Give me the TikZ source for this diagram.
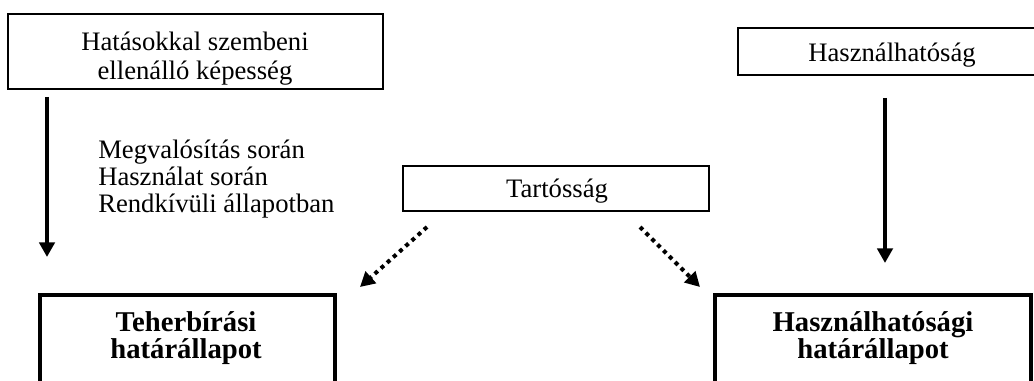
\documentclass[tikz,border=0pt]{standalone}
\usepackage{fontspec}
\setmainfont{Liberation Serif}
\usetikzlibrary{arrows.meta}
\begin{document}
\begin{tikzpicture}[x=0.75pt,y=-0.75pt,
  thinbox/.style={draw=black,line width=1.1pt,inner sep=0pt,fill=white},
  thickbox/.style={draw=black,line width=3pt,inner sep=0pt,fill=white},
  txt/.style={anchor=base,inner sep=0pt,font=\fontsize{20}{20.5}\selectfont},
  boldtxt/.style={anchor=base,inner sep=0pt,font=\fontsize{21.5}{20}\selectfont\bfseries},
  solidarrow/.style={line width=3.3pt,-{Triangle[length=11pt,width=11.5pt]}},
  dotarrow/.style={line width=3pt,dash pattern=on 3pt off 3.2pt,-{Triangle[length=11pt,width=11.5pt]}}
]
\useasboundingbox (0,0) rectangle (1034,381);
\clip (0,0) rectangle (1034,381);
\fill[white] (0,0) rectangle (1034,381);

% boxes
\node[thinbox,minimum width=281.25pt,minimum height=56.25pt] (hatas) at (195.5,51.5) {};
\node[txt] (hatastxt) at (195,51) {\begin{tabular}[t]{@{}c@{}}Hatásokkal szembeni\\[0.8pt]ellenálló képesség\end{tabular}};

\node[thinbox,minimum width=230.25pt,minimum height=35.25pt] (haszn) at (891.5,51.5) {};
\node[txt] (haszntxt) at (892,62) {Használhatóság};

\node[thinbox,minimum width=229.5pt,minimum height=33.75pt] (tart) at (556,188.5) {};
\node[txt] (tarttxt) at (557,197) {Tartósság};

\node[thickbox,minimum width=221.25pt,minimum height=78.75pt] (teher) at (187.5,347.5) {};
\node[boldtxt] (tehertxt) at (186,331) {\begin{tabular}[t]{@{}c@{}}Teherbírási\\határállapot\end{tabular}};

\node[thickbox,minimum width=237pt,minimum height=78.75pt] (hhat) at (873,347.5) {};
\node[boldtxt] (hhattxt) at (873,331) {\begin{tabular}[t]{@{}c@{}}Használhatósági\\határállapot\end{tabular}};

% side label
\node[txt,anchor=base west] (megval) at (98,158) {\begin{tabular}[t]{@{}l@{}}Megvalósítás során\\Használat során\\Rendkívüli állapotban\end{tabular}};

% arrow end points
\coordinate (a1s) at (47,97);
\coordinate (a1e) at (47,257);
\coordinate (a2s) at (885,98);
\coordinate (a2e) at (885,263);
\coordinate (d1s) at (427,227);
\coordinate (d1e) at (360,287);
\coordinate (d2s) at (640,227);
\coordinate (d2e) at (700,287);

\draw[solidarrow] (a1s) -- (a1e);
\draw[solidarrow] (a2s) -- (a2e);
\draw[dotarrow] (d1s) -- (d1e);
\draw[dotarrow] (d2s) -- (d2e);
\end{tikzpicture}
\end{document}
